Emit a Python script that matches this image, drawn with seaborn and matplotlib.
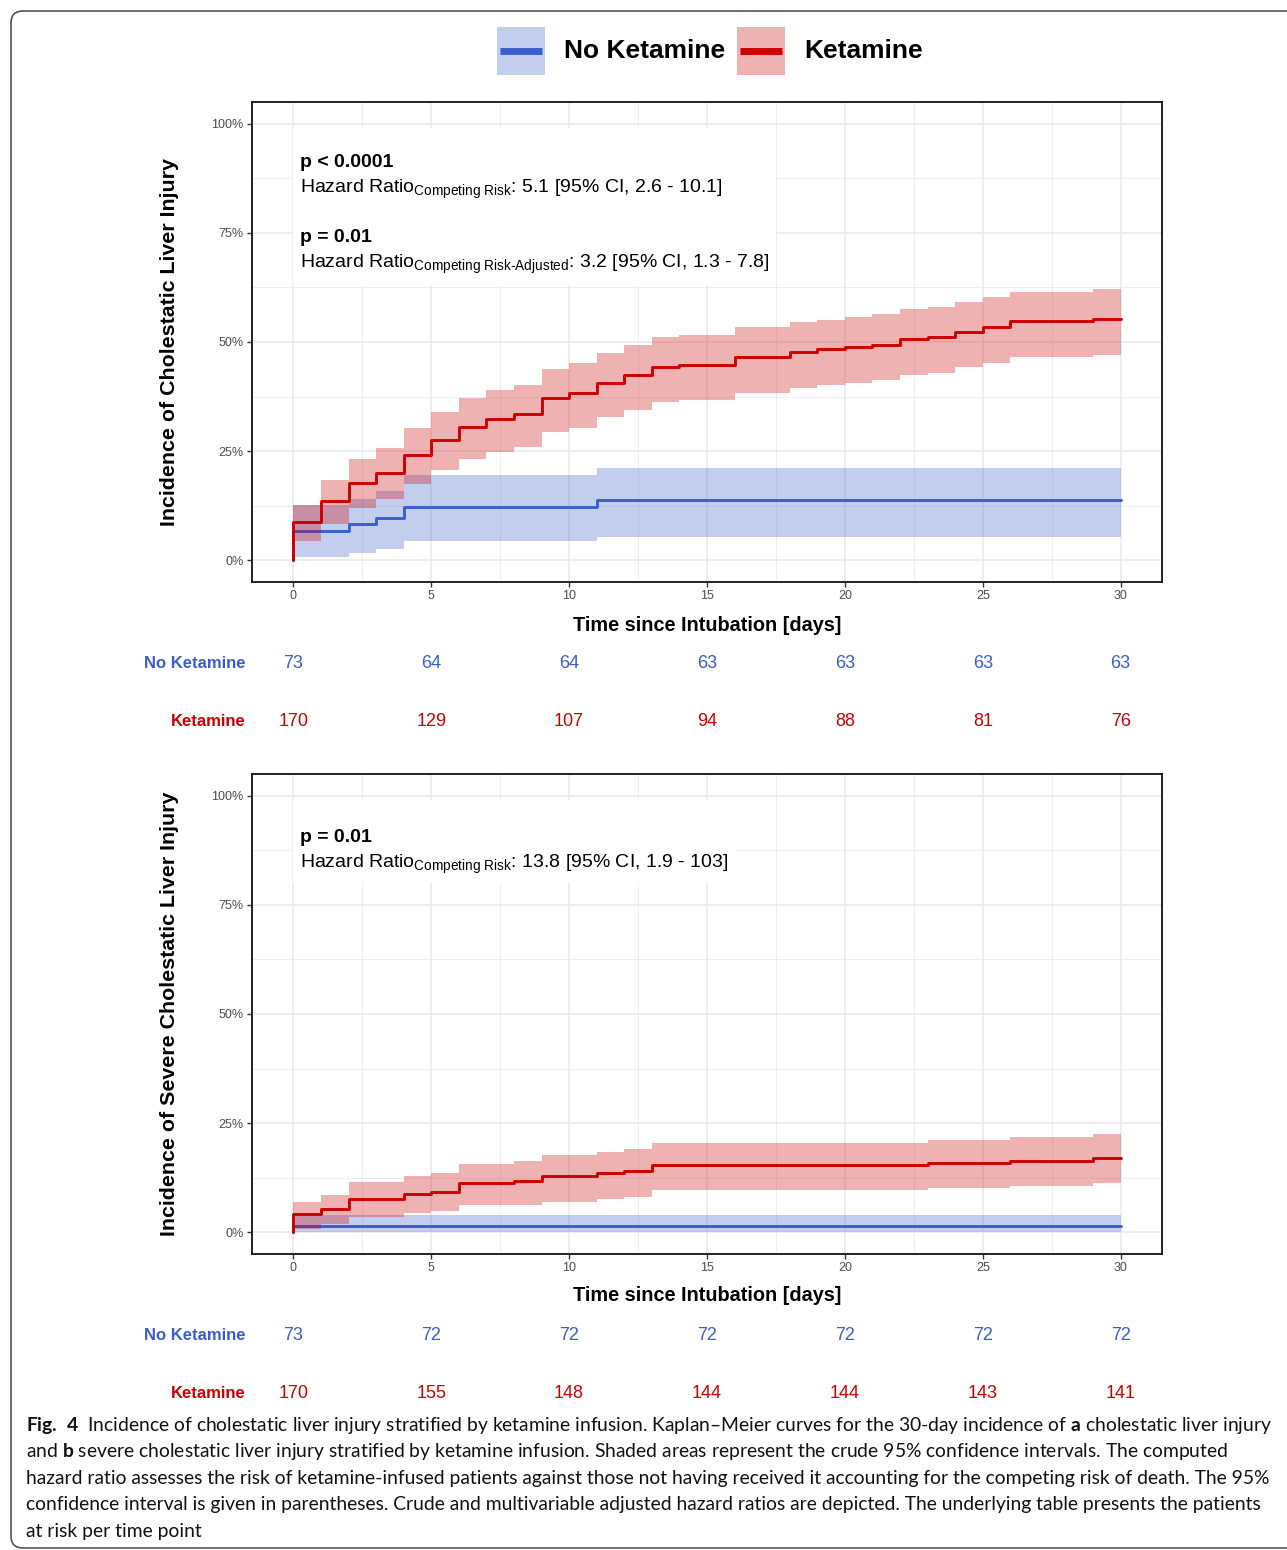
import pandas as pd
import matplotlib
matplotlib.use("Agg")
import matplotlib.pyplot as plt
import matplotlib.transforms as mtransforms
import seaborn as sns
from matplotlib.patches import Rectangle, FancyBboxPatch
from matplotlib.ticker import PercentFormatter, MultipleLocator

# ===============================
# DATA
# ===============================
day_ticks = [0, 5, 10, 15, 20, 25, 30]
groups = ["No Ketamine", "Ketamine"]
colors = {"No Ketamine": "#3A5FCD", "Ketamine": "#CD0000"}

# a) cholestatic liver injury
a_nok_time = [0, 2, 3, 4, 11]
a_nok_est = [0.068, 0.082, 0.096, 0.123, 0.137]
a_nok_low = [0.008, 0.016, 0.025, 0.044, 0.054]
a_nok_up = [0.127, 0.141, 0.159, 0.195, 0.212]

a_ket_time = [0, 1, 2, 3, 4, 5, 6, 7, 8, 9, 10, 11, 12, 13, 14,
              16, 18, 19, 20, 21, 22, 23, 24, 25, 26, 29]
a_ket_est = [0.088, 0.135, 0.177, 0.199, 0.241, 0.276, 0.306, 0.323, 0.334,
             0.371, 0.382, 0.405, 0.424, 0.442, 0.447, 0.465, 0.477, 0.483,
             0.488, 0.494, 0.506, 0.511, 0.524, 0.535, 0.547, 0.553]
a_ket_low = [0.044, 0.084, 0.119, 0.140, 0.174, 0.206, 0.233, 0.249, 0.260,
             0.293, 0.304, 0.327, 0.344, 0.362, 0.367, 0.384, 0.395, 0.401,
             0.406, 0.413, 0.424, 0.430, 0.442, 0.453, 0.466, 0.471]
a_ket_up = [0.127, 0.183, 0.232, 0.256, 0.302, 0.340, 0.371, 0.390, 0.401,
            0.438, 0.451, 0.475, 0.493, 0.511, 0.517, 0.534, 0.546, 0.551,
            0.557, 0.564, 0.576, 0.581, 0.592, 0.604, 0.615, 0.622]

# b) severe cholestatic liver injury
b_nok_time = [0]
b_nok_est = [0.014]
b_nok_low = [0.0]
b_nok_up = [0.039]

b_ket_time = [0, 1, 2, 4, 5, 6, 8, 9, 11, 12, 13, 23, 26, 29]
b_ket_est = [0.041, 0.052, 0.075, 0.087, 0.093, 0.112, 0.117, 0.128, 0.135,
             0.141, 0.153, 0.159, 0.164, 0.169]
b_ket_low = [0.008, 0.018, 0.035, 0.043, 0.048, 0.062, 0.063, 0.070, 0.076,
             0.081, 0.096, 0.102, 0.106, 0.112]
b_ket_up = [0.069, 0.085, 0.114, 0.128, 0.136, 0.157, 0.163, 0.177, 0.184,
            0.190, 0.204, 0.211, 0.217, 0.224]

# patients at risk
risk_a_nok = [73, 64, 64, 63, 63, 63, 63]
risk_a_ket = [170, 129, 107, 94, 88, 81, 76]
risk_b_nok = [73, 72, 72, 72, 72, 72, 72]
risk_b_ket = [170, 155, 148, 144, 144, 143, 141]

follow_up_end = 30

caption_lines = [
    r"$\mathbf{Fig.\ 4}$  Incidence of cholestatic liver injury stratified by ketamine infusion. "
    r"Kaplan–Meier curves for the 30-day incidence of $\mathbf{a}$ cholestatic liver injury",
    r"and $\mathbf{b}$ severe cholestatic liver injury stratified by ketamine infusion. "
    r"Shaded areas represent the crude 95% confidence intervals. The computed",
    "hazard ratio assesses the risk of ketamine-infused patients against those not having "
    "received it accounting for the competing risk of death. The 95%",
    "confidence interval is given in parentheses. Crude and multivariable adjusted hazard "
    "ratios are depicted. The underlying table presents the patients",
    "at risk per time point",
]

# ===============================
# STYLE
# ===============================
sns.set_theme(style="whitegrid")
plt.rcParams["font.family"] = ["Liberation Sans", "DejaVu Sans"]
plt.rcParams["text.color"] = "black"
plt.rcParams["axes.labelcolor"] = "black"
plt.rcParams["mathtext.fontset"] = "custom"
plt.rcParams["mathtext.rm"] = "Liberation Sans"
plt.rcParams["mathtext.bf"] = "Lato:bold"
plt.rcParams["axes.axisbelow"] = True

W, H = 1287, 1550
fig = plt.figure(figsize=(W / 100, H / 100), dpi=100)
fig.patch.set_facecolor("white")


def fig_rect(x0, y0, x1, y1):
    # pixel box (top-left origin) -> figure fraction rect
    return [x0 / W, 1 - y1 / H, (x1 - x0) / W, (y1 - y0) / H]


# background canvas in pixel units (frame, legend, caption)
bg = fig.add_axes([0, 0, 1, 1], zorder=-1)
bg.set_xlim(0, W)
bg.set_ylim(H, 0)
bg.axis("off")
bg.add_patch(FancyBboxPatch((11, 11), 1320, 1537,
                            boxstyle="round,pad=0,rounding_size=12",
                            fill=False, ec="#555555", lw=1.2))


def curve_frame(time, est, group):
    t = [0] + list(time) + [follow_up_end]
    y = [0] + list(est) + [est[-1]]
    return pd.DataFrame({"time": t, "est": y, "group": group})


def draw_panel(ax, curves, ylabel, xlab_y):
    z = 1
    for g, (time, est, low, up) in zip(groups, curves):
        t = list(time) + [follow_up_end]
        ax.fill_between(t, list(low) + [low[-1]], list(up) + [up[-1]],
                        step="post", color=colors[g], alpha=0.3, lw=0, zorder=z)
        sns.lineplot(data=curve_frame(time, est, g), x="time", y="est",
                     color=colors[g], drawstyle="steps-post", estimator=None,
                     sort=False, lw=2.1, legend=False, ax=ax, zorder=z + 0.5)
        z += 1

    ax.set_xlim(-1.5, 31.5)
    ax.set_ylim(-0.05, 1.05)
    ax.set_xticks(day_ticks)
    ax.xaxis.set_minor_locator(MultipleLocator(2.5))
    ax.yaxis.set_major_locator(MultipleLocator(0.25))
    ax.yaxis.set_minor_locator(MultipleLocator(0.125))
    ax.yaxis.set_major_formatter(PercentFormatter(1, decimals=0))
    ax.grid(which="major", color="#EBEBEB", lw=1.2)
    ax.grid(which="minor", color="#EBEBEB", lw=0.6)
    ax.tick_params(which="minor", length=0)
    ax.tick_params(which="major", direction="out", length=3.5, width=1,
                   color="#333333", labelcolor="#4D4D4D", labelsize=9,
                   pad=2.5, bottom=True, left=True)
    for s in ax.spines.values():
        s.set_color("#111111")
        s.set_linewidth(1.3)
    ax.set_xlabel("Time since Intubation [days]", fontsize=14.3, fontweight="bold")
    ax.xaxis.set_label_coords(0.5, xlab_y)
    ax.set_ylabel(ylabel, fontsize=15.4, fontweight="bold")
    ax.yaxis.set_label_coords(-0.080, 0.5)


def draw_risk(ax, counts_nok, counts_ket):
    ax.set_xlim(-1.5, 31.5)
    ax.set_ylim(-0.5, 1.5)
    ax.axis("off")
    trans = mtransforms.blended_transform_factory(ax.transAxes, ax.transData)
    for row, g, counts in [(1, groups[0], counts_nok), (0, groups[1], counts_ket)]:
        for d, n in zip(day_ticks, counts):
            ax.text(d, row, str(n), ha="center", va="center",
                    color=colors[g], fontsize=13)
        ax.text(-0.0066, row, g, transform=trans, ha="right", va="center",
                color=colors[g], fontsize=12, fontweight="bold")


# ===============================
# PANEL A
# ===============================
ax_a = fig.add_axes(fig_rect(252, 102, 1162, 582))
draw_panel(ax_a,
           [(a_nok_time, a_nok_est, a_nok_low, a_nok_up),
            (a_ket_time, a_ket_est, a_ket_low, a_ket_up)],
           "Incidence of Cholestatic Liver Injury", -0.071)
ax_a.add_patch(Rectangle((0, 0.63), 17.5, 0.36, facecolor="white",
                         edgecolor="none", zorder=0.8))
ax_a.text(0.25, 0.9010, "p < 0.0001", fontsize=14, fontweight="bold", va="baseline")
ax_a.text(0.25, 0.8420, r"Hazard Ratio$_{\text{Competing Risk}}$: 5.1 [95% CI, 2.6 - 10.1]",
          fontsize=14, va="baseline")
ax_a.text(0.25, 0.7290, "p = 0.01", fontsize=14, fontweight="bold", va="baseline")
ax_a.text(0.25, 0.6700,
          r"Hazard Ratio$_{\text{Competing Risk-Adjusted}}$: 3.2 [95% CI, 1.3 - 7.8]",
          fontsize=14, va="baseline")

ax_ra = fig.add_axes(fig_rect(252, 635, 1162, 751))
draw_risk(ax_ra, risk_a_nok, risk_a_ket)

# ===============================
# PANEL B
# ===============================
ax_b = fig.add_axes(fig_rect(252, 774, 1162, 1254))
draw_panel(ax_b,
           [(b_nok_time, b_nok_est, b_nok_low, b_nok_up),
            (b_ket_time, b_ket_est, b_ket_low, b_ket_up)],
           "Incidence of Severe Cholestatic Liver Injury", -0.0667)
ax_b.add_patch(Rectangle((0, 0.80), 16.1, 0.19, facecolor="white",
                         edgecolor="none", zorder=0.8))
ax_b.text(0.25, 0.8950, "p = 0.01", fontsize=14, fontweight="bold", va="baseline")
ax_b.text(0.25, 0.8360, r"Hazard Ratio$_{\text{Competing Risk}}$: 13.8 [95% CI, 1.9 - 103]",
          fontsize=14, va="baseline")

ax_rb = fig.add_axes(fig_rect(252, 1307, 1162, 1423))
draw_risk(ax_rb, risk_b_nok, risk_b_ket)

# ===============================
# LEGEND (key boxes drawn in pixel units)
# ===============================
key_x = [497, 737]
for g, kx in zip(groups, key_x):
    bg.add_patch(Rectangle((kx, 27), 48, 48, facecolor=colors[g], alpha=0.3, lw=0))
    bg.plot([kx + 3, kx + 45], [51, 51], color=colors[g], lw=5, solid_capstyle="butt")
    bg.text(kx + 67, 51, g, fontsize=19, fontweight="bold", va="center", ha="left")

# ===============================
# CAPTION
# ===============================
baselines = [1431, 1457, 1484, 1510, 1537]
cap_texts = [bg.text(26, yb, s, family="Lato", fontsize=13, va="baseline",
                     color="#111111")
             for s, yb in zip(caption_lines, baselines)]
fig.canvas.draw()
w1 = cap_texts[0].get_window_extent().width
cap_size = 13 * 1240 / w1
for t in cap_texts:
    t.set_fontsize(cap_size)

fig.savefig("out.png", dpi=100, facecolor="white")
plt.close()
